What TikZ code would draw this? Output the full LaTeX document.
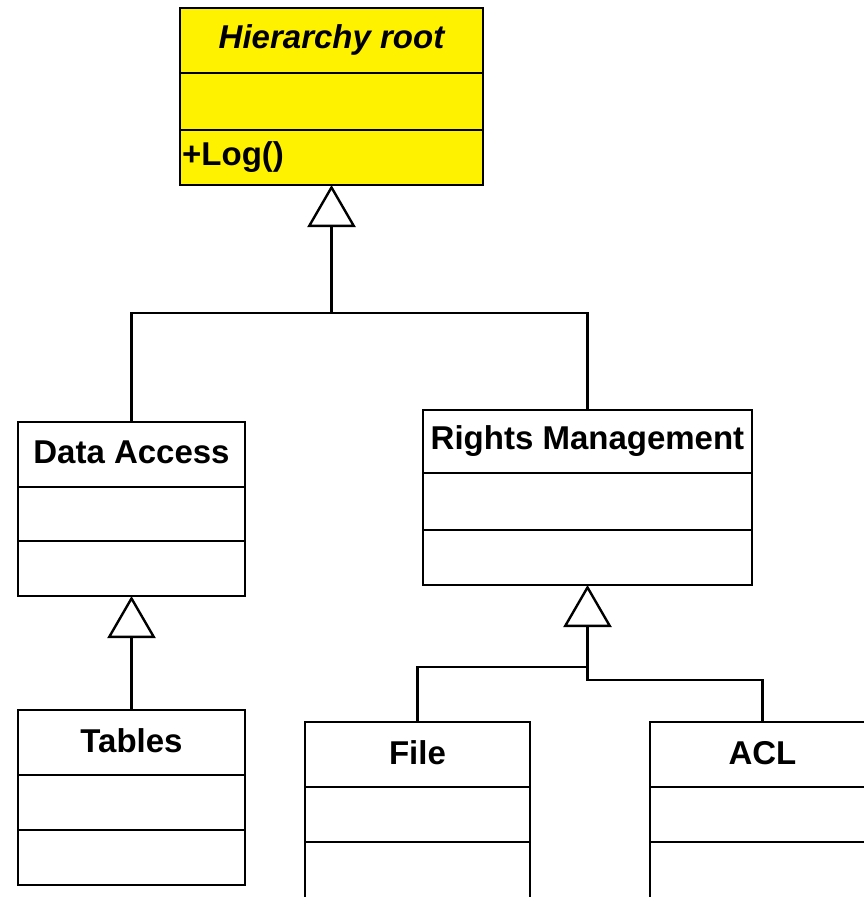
\documentclass[tikz,border=0pt]{standalone}
\usepackage{fontspec}
\setmainfont{Liberation Sans}
\usetikzlibrary{arrows.meta}
\begin{document}
\begin{tikzpicture}[x=1pt,y=-1pt,
  cls/.style={draw=black,line width=2.8pt,inner sep=0pt,outer sep=0pt,anchor=north west,fill=white},
  ttl/.style={font=\fontsize{33}{40}\selectfont\bfseries,inner sep=0pt},
  div/.style={line width=2.8pt},
  conn/.style={line width=2.8pt},
  gen/.style={-{Triangle[open,fill=white,length=42pt,width=48pt,line width=2.4pt]}}
]
\useasboundingbox (0,0) rectangle (864,897);
\clip (0,0) rectangle (864,897);
\fill[white] (0,0) rectangle (864,897);

% Root class
\node[cls,fill=yellow,minimum width=303pt,minimum height=177pt] (root) at (180,8) {};
\node[inner sep=0pt,font=\fontsize{33}{40}\selectfont\bfseries\itshape] (roott) at (331.5,40) {Hierarchy root};
\draw[div] (180,73) -- (483,73);
\draw[div] (180,130) -- (483,130);
\node[ttl,anchor=west] (rootop) at (182,157) {+Log()};

% Data Access
\node[cls,minimum width=227pt,minimum height=174pt] (da) at (18,422) {};
\node[ttl] (dat) at (131.5,452) {Data Access};
\draw[div] (18,487) -- (245,487);
\draw[div] (18,541) -- (245,541);

% Tables
\node[cls,minimum width=227pt,minimum height=175pt] (tab) at (18,710) {};
\node[ttl] (tabt) at (131.5,741) {Tables};
\draw[div] (18,775) -- (245,775);
\draw[div] (18,830) -- (245,830);

% Rights Management
\node[cls,minimum width=329pt,minimum height=175pt] (rm) at (423,410) {};
\node[ttl] (rmt) at (587.5,441) {Rights Management};
\draw[div] (423,473) -- (752,473);
\draw[div] (423,530) -- (752,530);

% File
\node[cls,minimum width=225pt,minimum height=190pt] (file) at (305,722) {};
\node[ttl] (filet) at (417.5,753) {File};
\draw[div] (305,787) -- (530,787);
\draw[div] (305,842) -- (530,842);

% ACL
\node[cls,minimum width=225pt,minimum height=190pt] (acl) at (650,722) {};
\node[ttl] (aclt) at (762.5,753) {ACL};
\draw[div] (650,787) -- (875,787);
\draw[div] (650,842) -- (875,842);

% Connectors
\coordinate (j1) at (331.5,313);
\coordinate (j2) at (587.5,667);
\coordinate (j3) at (587.5,680);
\draw[conn] (da.north) |- (j1);
\draw[conn] (rm.north) |- (j1);
\draw[conn,gen] (j1) -- (root.south);
\draw[conn,gen] (tab.north) -- (da.south);
\draw[conn] (file.north) |- (j2);
\draw[conn] (acl.north) |- (j3) -- (j2);
\draw[conn,gen] (j2) -- (rm.south);
\end{tikzpicture}
\end{document}
